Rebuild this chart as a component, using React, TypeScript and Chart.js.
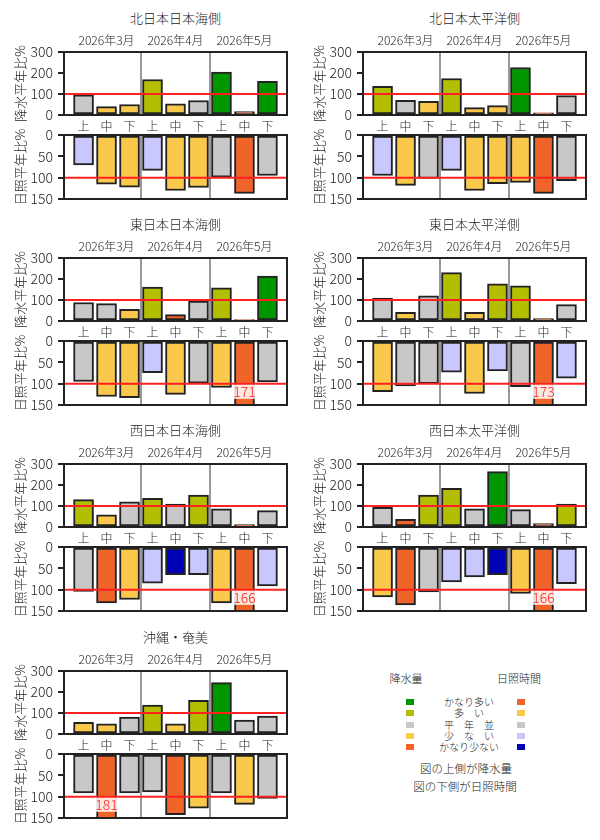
import { useEffect, useRef } from "react"
import { Chart, registerables } from "chart.js"

Chart.register(...registerables)

const FONT = "'Noto Sans CJK JP', 'Noto Sans', sans-serif"
Chart.defaults.font.family = FONT
Chart.defaults.color = "#222"

const regionNames = ["北日本日本海側", "北日本太平洋側", "東日本日本海側", "東日本太平洋側", "西日本日本海側", "西日本太平洋側", "沖縄・奄美"]
const monthLabels = ["2026年3月", "2026年4月", "2026年5月"]
const periodLabels = ["上", "中", "下", "上", "中", "下", "上", "中", "下"]
const monthCenters = [1, 4, 7]
const monthBounds = [2.5, 5.5]
const rainTicks = [0, 100, 200, 300]
const sunTicks = [0, 50, 100, 150]
const normalValue = 100

// 階級: 0 かなり少ない, 1 少ない, 2 平年並, 3 多い, 4 かなり多い
const classNames = ["かなり少ない", "少　な　い", "平　年　並", "多　い", "かなり多い"]
const rainColors = ["#f0642a", "#fac84b", "#c8c8c8", "#b4be00", "#009600"]
const sunColors = ["#0000b4", "#c8c8ff", "#c8c8c8", "#fac84b", "#f0642a"]

// 降水量 平年比%
const rainNJ = [96, 40, 50, 169, 53, 69, 204, 16, 160]
const rainNP = [136, 70, 65, 174, 35, 45, 226, 10, 92]
const rainEJ = [88, 83, 55, 162, 30, 95, 158, 7, 214]
const rainEP = [109, 41, 120, 230, 41, 177, 167, 12, 78]
const rainWJ = [130, 58, 120, 137, 109, 152, 87, 11, 78]
const rainWP = [94, 36, 152, 184, 87, 264, 83, 16, 109]
const rainOK = [56, 49, 80, 138, 49, 160, 245, 66, 85]

const rainClsNJ = [2, 1, 1, 3, 1, 2, 4, 0, 4]
const rainClsNP = [3, 2, 1, 3, 1, 1, 4, 0, 2]
const rainClsEJ = [2, 2, 1, 3, 0, 2, 3, 0, 4]
const rainClsEP = [2, 1, 2, 3, 1, 3, 3, 0, 2]
const rainClsWJ = [3, 1, 2, 3, 2, 3, 2, 0, 2]
const rainClsWP = [2, 0, 3, 3, 2, 4, 2, 0, 3]
const rainClsOK = [1, 1, 2, 3, 1, 3, 4, 2, 2]

// 日照時間 平年比%
const sunNJ = [70, 115, 122, 83, 130, 123, 99, 137, 95]
const sunNP = [95, 118, 102, 83, 130, 114, 111, 137, 107]
const sunEJ = [95, 130, 133, 74, 125, 99, 109, 171, 96]
const sunEP = [119, 105, 100, 73, 123, 70, 107, 173, 87]
const sunWJ = [104, 131, 123, 85, 65, 65, 131, 166, 91]
const sunWP = [117, 136, 105, 82, 70, 65, 109, 166, 86]
const sunOK = [91, 181, 91, 89, 142, 127, 91, 118, 104]

const sunClsNJ = [1, 3, 3, 1, 3, 3, 2, 4, 2]
const sunClsNP = [1, 3, 2, 1, 3, 3, 3, 4, 2]
const sunClsEJ = [2, 3, 3, 1, 3, 2, 3, 4, 2]
const sunClsEP = [3, 2, 2, 1, 3, 1, 2, 4, 1]
const sunClsWJ = [2, 4, 3, 1, 0, 1, 3, 4, 1]
const sunClsWP = [3, 4, 2, 1, 1, 0, 3, 4, 1]
const sunClsOK = [2, 4, 2, 2, 4, 3, 2, 3, 2]

const rainByRegion = [rainNJ, rainNP, rainEJ, rainEP, rainWJ, rainWP, rainOK]
const rainClsByRegion = [rainClsNJ, rainClsNP, rainClsEJ, rainClsEP, rainClsWJ, rainClsWP, rainClsOK]
const sunByRegion = [sunNJ, sunNP, sunEJ, sunEP, sunWJ, sunWP, sunOK]
const sunClsByRegion = [sunClsNJ, sunClsNP, sunClsEJ, sunClsEP, sunClsWJ, sunClsWP, sunClsOK]

const rowTops = [0, 206, 412, 619]
const colLefts = [0, 299]

interface BarPlotProps {
  kind: "rain" | "sun"
  values: number[]
  classes: number[]
  left: number
  top: number
}

const BarPlot = ({ kind, values, classes, left, top }: BarPlotProps) => {
  const canvasRef = useRef<HTMLCanvasElement>(null)
  const height = kind === "rain" ? 104 : 92

  useEffect(() => {
    if (!canvasRef.current) return
    const rain = kind === "rain"
    const ticks = rain ? rainTicks : sunTicks
    const colors = rain ? rainColors : sunColors
    const yMax = ticks[ticks.length - 1]

    const decor = {
      id: "decor",
      beforeDatasetsDraw(chart: any) {
        const { ctx, chartArea: a, scales } = chart
        ctx.save()
        ctx.strokeStyle = "#999"
        ctx.lineWidth = 2
        monthBounds.forEach((b) => {
          const px = scales.x.getPixelForValue(b)
          ctx.beginPath()
          ctx.moveTo(px, a.top)
          ctx.lineTo(px, a.bottom)
          ctx.stroke()
        })
        ctx.restore()
      },
      afterDatasetsDraw(chart: any) {
        const { ctx, chartArea: a, scales } = chart
        ctx.save()
        // 平年値の線
        const py = scales.y.getPixelForValue(normalValue)
        ctx.strokeStyle = "#ff2020"
        ctx.lineWidth = 2
        ctx.beginPath()
        ctx.moveTo(a.left, py)
        ctx.lineTo(a.right, py)
        ctx.stroke()
        ctx.strokeStyle = "#222"
        ctx.strokeRect(a.left, a.top, a.right - a.left, a.bottom - a.top)
        // 軸の範囲を超える値
        ctx.font = `300 14px ${FONT}`
        ctx.textAlign = "center"
        ctx.textBaseline = "middle"
        values.forEach((v, i) => {
          if (v <= yMax) return
          const px = scales.x.getPixelForValue(i)
          const ly = scales.y.getPixelForValue(yMax - 31)
          const t = String(v)
          const w = ctx.measureText(t).width
          ctx.fillStyle = "rgba(255,255,255,0.85)"
          ctx.fillRect(px - w / 2 - 1, ly - 7, w + 2, 14)
          ctx.fillStyle = "#ff2020"
          ctx.fillText(t, px, ly)
        })
        ctx.restore()
      },
    }

    const chart = new Chart(canvasRef.current, {
      type: "bar",
      data: {
        datasets: [
          {
            data: values.map((v, i) => ({ x: i, y: v })),
            backgroundColor: classes.map((c) => colors[c]),
            borderColor: "#222",
            borderWidth: 2,
            borderSkipped: false,
            barThickness: 20,
          },
        ],
      },
      options: {
        animation: false,
        responsive: false,
        layout: { padding: rain ? { left: 0, right: 13, top: 0, bottom: 0 } : { left: 0, right: 13, top: 14, bottom: 14 } },
        plugins: { legend: { display: false }, tooltip: { enabled: false } },
        scales: {
          x: {
            type: "linear",
            min: -0.85,
            max: 8.85,
            offset: false,
            display: rain,
            afterBuildTicks: (s: any) => {
              s.ticks = periodLabels.map((_, i) => ({ value: i }))
            },
            afterFit: (s: any) => {
              s.height = rain ? 19 : 0
            },
            ticks: {
              callback: (_v: any, i: number) => periodLabels[i],
              font: { size: 12, weight: 300 },
              padding: 4,
              color: "#222",
              autoSkip: false,
              maxRotation: 0,
            },
            grid: { display: false, drawTicks: false, offset: false },
            border: { display: false },
          },
          xTop: {
            type: "linear",
            axis: "x",
            position: "top",
            min: -0.85,
            max: 8.85,
            offset: false,
            display: rain,
            afterBuildTicks: (s: any) => {
              s.ticks = monthCenters.map((value) => ({ value }))
            },
            afterFit: (s: any) => {
              s.height = rain ? 22 : 0
            },
            ticks: {
              callback: (_v: any, i: number) => monthLabels[i],
              font: { size: 12, weight: 300 },
              padding: 4,
              color: "#222",
              autoSkip: false,
              maxRotation: 0,
            },
            grid: { display: false, drawTicks: false, offset: false },
            border: { display: false },
          },
          y: {
            min: ticks[0],
            max: yMax,
            reverse: !rain,
            afterBuildTicks: (s: any) => {
              s.ticks = ticks.map((value) => ({ value }))
            },
            afterFit: (s: any) => {
              s.width = 64
            },
            ticks: { font: { size: 14, weight: 300 }, padding: 5, color: "#222" },
            grid: { drawOnChartArea: false, tickLength: 6, tickColor: "#222", lineWidth: 2 },
            border: { display: false },
            title: {
              display: true,
              text: rain ? "降水平年比%" : "日照平年比%",
              font: { size: 13, weight: 300 },
              color: "#222",
              padding: { top: 12, bottom: 0 },
            },
          },
        },
      },
      plugins: [decor],
    } as any)

    return () => {
      chart.destroy()
    }
  }, [kind, values, classes])

  return (
    <canvas
      ref={canvasRef}
      width={300}
      height={height}
      style={{ position: "absolute", left, top, width: 300, height }}
    />
  )
}

const Legend = () => {
  const rows = [4, 3, 2, 1, 0]
  const rowY = [702, 713, 724.5, 735.5, 746.5]
  const text = (s: string, cx: number, cy: number, size: number, key?: string) => (
    <div
      key={key}
      style={{ position: "absolute", left: cx - 80, top: cy - 8, width: 160, height: 16, lineHeight: "16px", textAlign: "center", fontSize: size, whiteSpace: "pre" }}
    >
      {s}
    </div>
  )
  return (
    <>
      {text("降水量", 406, 678, 11)}
      {text("日照時間", 519, 678, 11)}
      {rows.map((c, r) => (
        <div key={"r" + c}>
          <div style={{ position: "absolute", left: 406, top: rowY[r] - 3, width: 8, height: 6, background: rainColors[c] }} />
          <div style={{ position: "absolute", left: 517, top: rowY[r] - 3, width: 8, height: 6, background: sunColors[c] }} />
          {text(classNames[c], 469, rowY[r], 10)}
        </div>
      ))}
      {text("図の上側が降水量", 466, 768, 11.5)}
      {text("図の下側が日照時間", 465, 786, 11.5)}
    </>
  )
}

const App = () => {
  return (
    <div style={{ position: "absolute", left: 0, top: 0, width: 600, height: 840, background: "#fff", fontFamily: FONT, fontWeight: 300, color: "#222" }}>
      {regionNames.map((name, k) => {
        const left = colLefts[k % 2]
        const top = rowTops[Math.floor(k / 2)]
        return (
          <div key={name}>
            <div style={{ position: "absolute", left: left + 64, top: top + 9, width: 223, height: 18, lineHeight: "18px", textAlign: "center", fontSize: 13 }}>
              {name}
            </div>
            <BarPlot kind="rain" values={rainByRegion[k]} classes={rainClsByRegion[k]} left={left} top={top + 30} />
            <BarPlot kind="sun" values={sunByRegion[k]} classes={sunClsByRegion[k]} left={left} top={top + 121} />
          </div>
        )
      })}
      <Legend />
    </div>
  )
}

export default App
